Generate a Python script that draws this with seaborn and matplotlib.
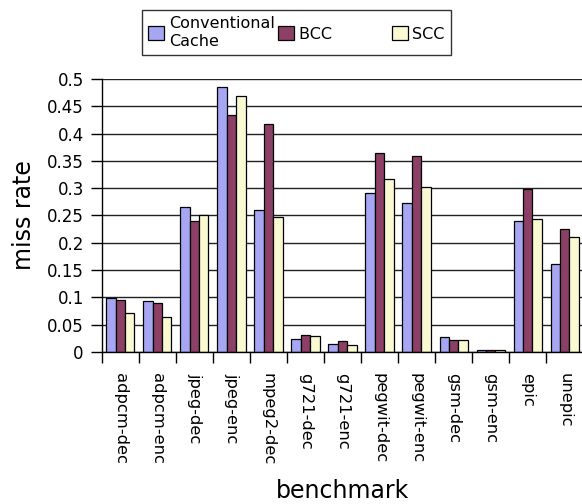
import pandas as pd
import matplotlib
matplotlib.use("Agg")
import matplotlib.pyplot as plt
import seaborn as sns
import numpy as np

benchmarks = ["adpcm-dec", "adpcm-enc", "jpeg-dec", "jpeg-enc", "mpeg2-dec",
              "g721-dec", "g721-enc", "pegwit-dec", "pegwit-enc", "gsm-dec",
              "gsm-enc", "epic", "unepic"]
conventional = [0.099, 0.093, 0.266, 0.485, 0.260, 0.023, 0.014, 0.291, 0.272,
                0.0275, 0.004, 0.2405, 0.161]
bcc = [0.0946, 0.090, 0.239, 0.434, 0.418, 0.0305, 0.021, 0.3645, 0.359,
       0.0214, 0.0037, 0.298, 0.225]
scc = [0.0714, 0.0647, 0.251, 0.468, 0.2466, 0.0287, 0.0134, 0.316, 0.302,
       0.0214, 0.0037, 0.243, 0.210]
series = ["Conventional\nCache", "BCC", "SCC"]
colors = ["#9999FF", "#993366", "#FFFFCC"]

df = pd.DataFrame({
    "benchmark": benchmarks * 3,
    "miss rate": conventional + bcc + scc,
    "cache": [series[0]] * 13 + [series[1]] * 13 + [series[2]] * 13,
})

sns.set_style("white")
plt.rcParams["font.family"] = ["DejaVu Sans"]
plt.rcParams["text.color"] = "black"
plt.rcParams["axes.labelcolor"] = "black"
plt.rcParams["xtick.color"] = "black"
plt.rcParams["ytick.color"] = "black"

fig = plt.figure(figsize=(5.82, 5.04), dpi=100)
ax = fig.add_axes([0.175, 0.3016, 0.827, 0.5417])

sns.barplot(data=df, x="benchmark", y="miss rate", hue="cache",
            palette=colors, edgecolor="black", linewidth=0.9,
            width=0.76, ax=ax, legend=True)

ax.set_ylim(0, 0.5)
ax.set_xlim(-0.5, 12.5)
ax.set_yticks(np.arange(0, 0.501, 0.05))
ax.set_yticklabels(["0", "0.05", "0.1", "0.15", "0.2", "0.25", "0.3", "0.35",
                    "0.4", "0.45", "0.5"])
ax.yaxis.grid(True, color="#222222", linewidth=1)
ax.set_axisbelow(True)
for s in ["top", "right"]:
    ax.spines[s].set_visible(False)
for s in ["left", "bottom"]:
    ax.spines[s].set_color("black")
    ax.spines[s].set_linewidth(1)

ax.tick_params(axis="y", left=True, length=8, width=1, pad=5, labelsize=12)
ax.set_xticks(range(13))
ax.set_xticklabels(benchmarks, rotation=270, va="top", ha="center")
ax.tick_params(axis="x", which="major", length=0, pad=15, labelsize=11.8)
ax.set_xticks(np.arange(-0.5, 13, 1), minor=True)
ax.tick_params(axis="x", which="minor", bottom=True, length=8, width=1)

ax.set_ylabel("miss rate", fontsize=17, labelpad=8)
ax.set_xlabel("benchmark", fontsize=17, labelpad=10)

handles, labels = ax.get_legend_handles_labels()
ax.get_legend().remove()
labels = [labels[0], labels[1] + "           ", labels[2]]
leg = fig.legend(handles, labels, loc="upper left",
                 bbox_to_anchor=(142 / 582, 1 - 10 / 504),
                 ncol=3, fontsize=11.5, frameon=True,
                 fancybox=False, edgecolor="black", handlelength=1.0,
                 handleheight=1.0, handletextpad=0.3, borderaxespad=0,
                 borderpad=0.4, columnspacing=0.2)
leg.get_frame().set_linewidth(1)

fig.savefig("out.png", dpi=100)
